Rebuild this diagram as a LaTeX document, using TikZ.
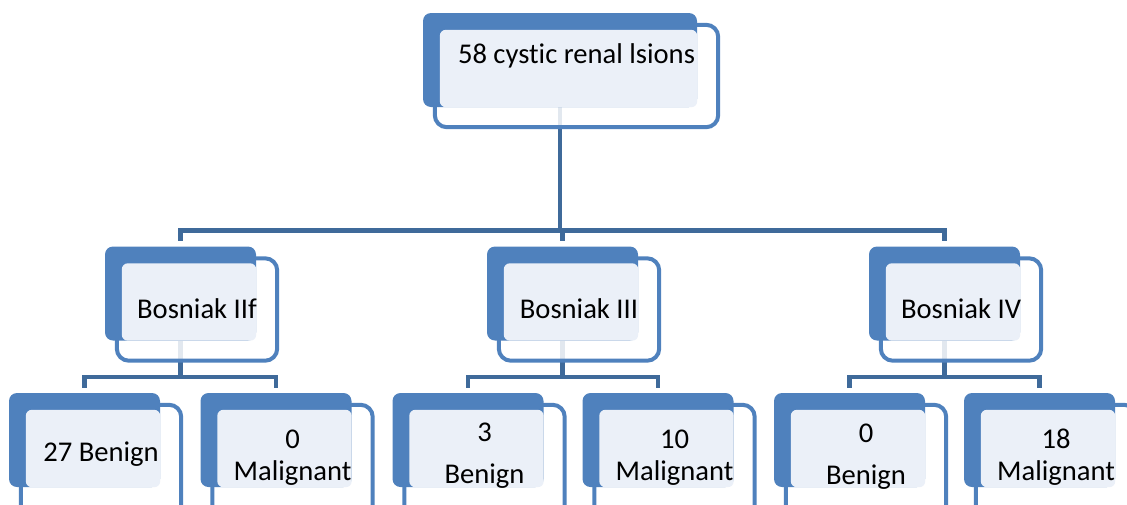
\documentclass[tikz,border=0pt]{standalone}
\usepackage{fontspec}
\setmainfont{Carlito}[Ligatures=NoCommon]

\definecolor{smblue}{RGB}{79,129,189}
\definecolor{smline}{RGB}{63,106,154}
\definecolor{smlight}{RGB}{235,240,248}

\pgfdeclarelayer{lines}
\pgfdeclarelayer{frames}
\pgfsetlayers{lines,frames,main}

\begin{document}
\begin{tikzpicture}[x=1pt,y=-1pt,
    backbox/.style={fill=smblue, rounded corners=8pt, inner sep=0pt, minimum height=94pt},
    boxframe/.style={draw=smblue, line width=4pt, rounded corners=12pt, fill=white, fill opacity=0.85},
    lightbox/.style={fill=smlight, rounded corners=6pt},
    txt/.style={font=\fontsize{28.6}{31.7}\selectfont, align=center, anchor=base, inner sep=0pt},
    conn/.style={draw=smline, line width=4.5pt}]

    \useasboundingbox (0,0) rectangle (1127,504);

    % boxes: name/x/y/width/frame bottom/text offset/text
    \foreach \nm/\cx/\cy/\w/\fb/\dy/\txt in {
        top/560/60/274/20/3.3/{58 cystic renal lsions},
        b2/180.5/293.5/151/20/24.8/{Bosniak IIf},
        b3/562.5/293.5/151/20/24.8/{Bosniak III},
        b4/944.5/293.5/151/20/24.8/{Bosniak IV},
        l1/84.5/440/151/40/21.7/{27 Benign},
        l2/276/440/151/40/40/{0\\Malignant},
        l3/468/440/151/40/43.8/{3\\[10.3pt]Benign},
        l4/658/440/151/40/40/{10\\Malignant},
        l5/849.5/440/151/40/44.5/{0\\[10.3pt]Benign},
        l6/1039.5/440/151/40/40/{18\\Malignant}}
    {
        \node[backbox, minimum width=\w pt] (\nm) at (\cx,\cy) {};
        \begin{pgfonlayer}{frames}
            \draw[boxframe] ([shift={(12,12)}]\nm.north west) rectangle ([shift={(21,\fb)}]\nm.south east);
        \end{pgfonlayer}
        \fill[lightbox] ([shift={(17,17)}]\nm.north west) rectangle (\nm.south east);
        \node[txt] (\nm-txt) at ([shift={(16.5,\dy)}]\nm.center) {\txt};
    }

    \begin{pgfonlayer}{lines}
        \foreach \a/\b in {top/b2, top/b3, top/b4, b2/l1, b2/l2, b3/l3, b3/l4, b4/l5, b4/l6}
            \draw[conn] (\a.south) |- ([yshift=16pt]\b.north) -- ([yshift=5pt]\b.north);
    \end{pgfonlayer}
\end{tikzpicture}
\end{document}
